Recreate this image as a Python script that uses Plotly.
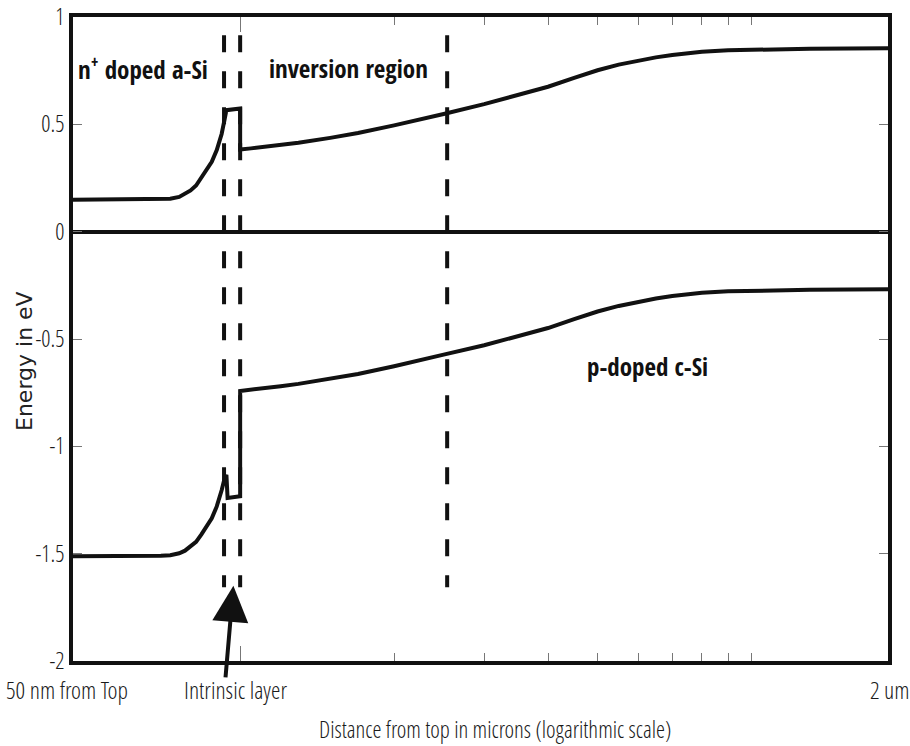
import math
import plotly.graph_objects as go

# Distance from the top surface (microns) and band-edge energies (eV)
cb_depth = [0.046, 0.060, 0.070, 0.073, 0.076, 0.078, 0.080, 0.082, 0.084, 0.086,
            0.088, 0.090, 0.091, 0.092, 0.093, 0.094, 0.100, 0.100, 0.105, 0.11,
            0.12, 0.13, 0.15, 0.17, 0.2, 0.225, 0.25, 0.3, 0.35, 0.4,
            0.45, 0.5, 0.55, 0.6, 0.65, 0.7, 0.8, 0.9, 1.0, 1.3,
            1.9]
cb_energy = [0.149, 0.149, 0.150, 0.153, 0.162, 0.175, 0.192, 0.215, 0.250, 0.285,
             0.325, 0.380, 0.412, 0.455, 0.510, 0.566, 0.574, 0.383, 0.388, 0.393,
             0.403, 0.414, 0.437, 0.460, 0.495, 0.522, 0.548, 0.594, 0.636, 0.675,
             0.716, 0.752, 0.778, 0.796, 0.812, 0.823, 0.838, 0.845, 0.848, 0.852,
             0.855]

vb_depth = [0.046, 0.060, 0.070, 0.073, 0.076, 0.078, 0.080, 0.082, 0.084, 0.086,
            0.088, 0.090, 0.091, 0.092, 0.093, 0.094, 0.0945, 0.0992, 0.100, 0.100,
            0.105, 0.11, 0.12, 0.13, 0.15, 0.17, 0.2, 0.225, 0.25, 0.3,
            0.35, 0.4, 0.45, 0.5, 0.55, 0.6, 0.65, 0.7, 0.8, 0.9,
            1.0, 1.3, 1.9]
vb_energy = [-1.512, -1.512, -1.510, -1.507, -1.498, -1.486, -1.468, -1.445, -1.410, -1.375,
             -1.335, -1.280, -1.248, -1.205, -1.160, -1.133, -1.241, -1.234, -1.233, -0.742,
             -0.737, -0.731, -0.720, -0.709, -0.686, -0.663, -0.627, -0.600, -0.573, -0.529,
             -0.487, -0.449, -0.407, -0.372, -0.346, -0.327, -0.311, -0.300, -0.285, -0.278,
             -0.275, -0.271, -0.268]

# Layer boundaries: n+ a-Si / intrinsic, intrinsic / c-Si, end of inversion region
boundaries = [0.093, 0.100, 0.254]
boundary_span = [0.915, -1.657]

y_tick_vals = [1, 0.5, 0, -0.5, -1, -1.5, -2]
y_tick_text = ["1", "0.5", "0", "-0.5", "-1", "-1.5", "-2"]
x_major_ticks = [0.1]
x_minor_ticks = [0.2, 0.3, 0.4, 0.5, 0.6, 0.7, 0.8, 0.9, 1.0]
x_range = [0.04711, 1.849]

arrow_tip = (0.097, -1.65)

W, H = 910, 746
M = dict(l=73, r=22, t=17, b=85)
PW = W - M["l"] - M["r"]
PH = H - M["t"] - M["b"]


def px(x):
    return (x - M["l"]) / PW


def py(y):
    return (H - M["b"] - y) / PH


INK = "#111111"
COND_LIGHT = "Open Sans Condensed Light, Open Sans Condensed, DejaVu Sans Condensed, sans-serif"
COND_BOLD = "Open Sans Condensed, DejaVu Sans Condensed, sans-serif"

fig = go.Figure()

for b in boundaries:
    fig.add_trace(go.Scatter(
        x=[b, b], y=boundary_span, mode="lines",
        line=dict(color=INK, width=4, dash="17px,19px"),
        hoverinfo="skip", showlegend=False))

fig.add_trace(go.Scatter(x=cb_depth, y=cb_energy, mode="lines",
                         line=dict(color=INK, width=4), showlegend=False))
fig.add_trace(go.Scatter(x=vb_depth, y=vb_energy, mode="lines",
                         line=dict(color=INK, width=4), showlegend=False))

tick_style = dict(ticks="inside", tickwidth=1, tickcolor="#777777")

fig.update_xaxes(
    type="log", range=[math.log10(x_range[0]), math.log10(x_range[1])],
    showline=True, linewidth=4, linecolor=INK, mirror="ticks",
    tickvals=x_major_ticks, ticktext=[""], ticklen=15,
    minor=dict(tickvals=x_minor_ticks, ticklen=8, **tick_style),
    showgrid=False, zeroline=False, **tick_style)

fig.update_yaxes(
    range=[-2, 1], tickvals=y_tick_vals, ticktext=y_tick_text, ticklen=9,
    showline=True, linewidth=4, linecolor=INK, mirror="ticks",
    zeroline=True, zerolinewidth=4, zerolinecolor=INK,
    showgrid=False, ticklabelstandoff=0, ticklabeloverflow="allow",
    tickfont=dict(family=COND_LIGHT, size=23, color="#1a1a1a"), **tick_style)

region_labels = [
    ("n<sup>+</sup> doped a-Si", 143, 68),
    ("inversion region", 348, 68),
    ("p-doped c-Si", 647, 366),
]
for text, x, y in region_labels:
    fig.add_annotation(text=text, x=px(x), y=py(y), xref="paper", yref="paper",
                       showarrow=False, xanchor="center", yanchor="middle",
                       font=dict(family=COND_BOLD, size=25, color=INK, weight=700))

axis_labels = [
    ("50 nm from Top", 67, 689, 24),
    ("Intrinsic layer", 235, 689, 24),
    ("2 um", 890, 689, 24),
    ("Distance from top in microns (logarithmic scale)", 495, 729, 23),
]
for text, x, y, size in axis_labels:
    fig.add_annotation(text=text, x=px(x), y=py(y), xref="paper", yref="paper",
                       showarrow=False, xanchor="center", yanchor="middle",
                       font=dict(family=COND_LIGHT, size=size, color="#1a1a1a"))

fig.add_annotation(text="Energy in eV", x=px(24), y=py(361), xref="paper", yref="paper",
                   showarrow=False, textangle=-90, xanchor="center", yanchor="middle",
                   font=dict(family="DejaVu Sans", size=22, color="#222222"))

fig.add_annotation(text="", x=math.log10(arrow_tip[0]), y=arrow_tip[1], xref="x", yref="y",
                   showarrow=True, arrowhead=2, arrowsize=1.8, arrowwidth=4,
                   arrowcolor=INK, ax=-8, ay=93)

fig.update_layout(
    template="none", width=W, height=H, autosize=False, margin=M,
    paper_bgcolor="white", plot_bgcolor="white", showlegend=False)

fig.write_html("out.html")
